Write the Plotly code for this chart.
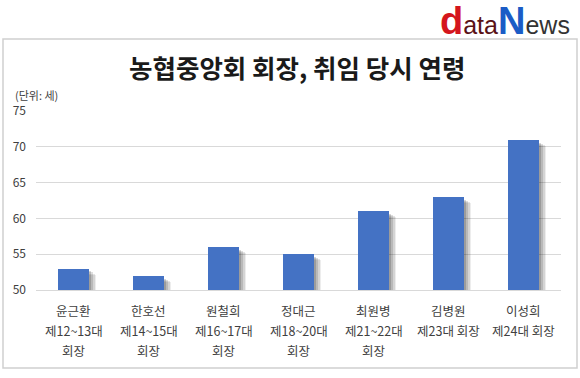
import plotly.graph_objects as go

names = ["윤근환", "한호선", "원철희", "정대근", "최원병", "김병원", "이성희"]
terms = ["제12~13대", "제14~15대", "제16~17대", "제18~20대", "제21~22대", "제23대 회장", "제24대 회장"]
suffix = ["회장", "회장", "회장", "회장", "회장", "", ""]
ages = [53, 52, 56, 55, 61, 63, 71]
y_ticks = [50, 55, 60, 65, 70, 75]

FONT = "Noto Sans CJK KR"
BAR_W = 0.41
fig = go.Figure()

# soft shadow layers
for shift, drop, alpha in [(0.025, 0.4, 0.16), (0.05, 0.55, 0.13), (0.075, 0.7, 0.10), (0.1, 0.85, 0.07)]:
    fig.add_trace(go.Bar(
        x=names, y=[a - drop for a in ages], width=BAR_W, offset=-BAR_W / 2 + shift,
        marker=dict(color=f"rgba(0,0,0,{alpha})", line=dict(width=0)),
        hoverinfo="skip", showlegend=False))

fig.add_trace(go.Bar(
    x=names, y=ages, width=BAR_W, offset=-BAR_W / 2,
    marker=dict(color="#4472c4", line=dict(width=0)), showlegend=False))

annotations = []
for n, t, s in zip(names, terms, suffix):
    for i, line in enumerate([n, t, s]):
        if line:
            annotations.append(dict(x=n, y=0, xref="x", yref="paper", text=line,
                                    showarrow=False, yanchor="middle", yshift=-20 * (i + 1),
                                    font=dict(family=FONT, size=12.5, color="#404040")))

# unit label
annotations.append(dict(x=(13 - 36) / 525, y=1 + 16 / 179, xref="paper", yref="paper",
                        xanchor="left", yanchor="middle", text="(단위: 세)", showarrow=False,
                        font=dict(family=FONT, size=11, color="#404040")))
# title
annotations.append(dict(x=(297 - 36) / 525, y=1 + (111 - 66) / 179, xref="paper", yref="paper",
                        xanchor="center", yanchor="middle", text="<b>농협중앙회 회장, 취임 당시 연령</b>",
                        showarrow=False, font=dict(family=FONT, size=25.5, color="#1a1a1a")))
# logo
logo = ("<span style='font-size:38px;color:#d4161d'><b>d</b></span>"
        "<span style='color:#5a1216'>ata</span>"
        "<span style='font-size:38px;color:#1b5cc6'><b>N</b></span>"
        "<span style='color:#333333'>ews</span>")
annotations.append(dict(x=(572 - 36) / 525, y=1 + (111 - 21) / 179, xref="paper", yref="paper",
                        xanchor="right", yanchor="middle", text=logo, showarrow=False,
                        font=dict(family="Arial, Liberation Sans", size=25, color="#333")))

fig.update_layout(
    width=580, height=378,
    margin=dict(l=36, r=19, t=111, b=88),
    paper_bgcolor="white", plot_bgcolor="white",
    barmode="overlay", bargap=0,
    annotations=annotations,
    shapes=[dict(type="rect", xref="paper", yref="paper",
                 x0=(3 - 36) / 525, x1=(577 - 36) / 525,
                 y0=-(368 - 290) / 179, y1=1 + (111 - 39) / 179,
                 line=dict(color="#d0d0d0", width=1.5), layer="below")],
    xaxis=dict(showticklabels=False, showgrid=False, showline=True, linecolor="#d9d9d9",
               linewidth=1, zeroline=False, range=[-0.5, 6.5]),
    yaxis=dict(range=[50, 75], tickvals=y_ticks, showgrid=True, gridcolor="#d9d9d9",
               gridwidth=1, zeroline=False, ticks="", ticklabelstandoff=9,
               tickfont=dict(family=FONT, size=12, color="#404040")),
)

fig.write_html("out.html", config={"displayModeBar": False},
               post_script="document.body.style.margin='0';document.body.style.padding='0';")
